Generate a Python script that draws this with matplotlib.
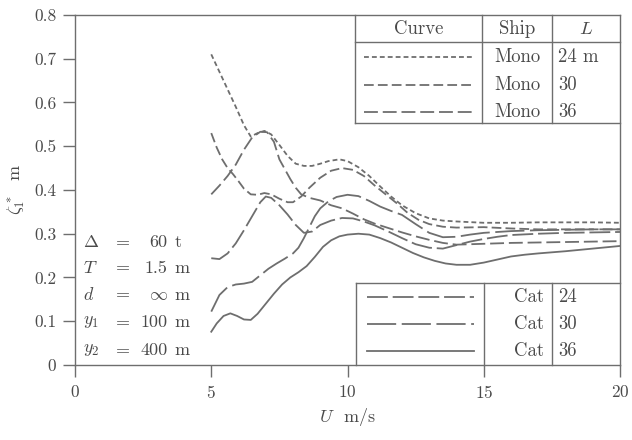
import matplotlib
matplotlib.use("Agg")
import matplotlib.pyplot as plt

plt.rcParams['font.family'] = 'cmr10'
plt.rcParams['mathtext.fontset'] = 'cm'
plt.rcParams['axes.formatter.use_mathtext'] = True
plt.rcParams['lines.scale_dashes'] = False

# ---------------- data ----------------
u_mono24 = [5.0, 5.3, 5.6, 5.9, 6.2, 6.45, 6.7, 6.95, 7.2, 7.5, 7.8, 8.1, 8.4, 8.7, 9.0, 9.3, 9.7,
            10.0, 10.4, 10.8, 11.2, 11.6, 12.0, 12.5, 13.0, 13.5, 14.0, 15.0, 16.0, 17.0, 18.0, 19.0, 20.0]
z_mono24 = [0.710, 0.670, 0.630, 0.590, 0.548, 0.522, 0.530, 0.535, 0.527, 0.503, 0.478, 0.460, 0.455,
            0.455, 0.460, 0.466, 0.470, 0.466, 0.452, 0.432, 0.408, 0.385, 0.365, 0.347, 0.335, 0.330,
            0.328, 0.325, 0.325, 0.326, 0.326, 0.326, 0.325]

u_mono30 = [5.0, 5.2, 5.4, 5.6, 5.8, 6.0, 6.2, 6.45, 6.7, 6.95, 7.2, 7.5, 7.8, 8.0, 8.3, 8.6, 9.0, 9.4,
            9.8, 10.2, 10.6, 11.0, 11.4, 11.8, 12.2, 12.6, 13.0, 13.5, 14.0, 15.0, 16.0, 17.0, 18.0, 19.0, 20.0]
z_mono30 = [0.530, 0.497, 0.470, 0.450, 0.436, 0.420, 0.403, 0.390, 0.389, 0.393, 0.390, 0.380, 0.372,
            0.372, 0.385, 0.405, 0.428, 0.444, 0.450, 0.446, 0.432, 0.410, 0.390, 0.370, 0.348, 0.332,
            0.322, 0.316, 0.314, 0.315, 0.312, 0.310, 0.310, 0.310, 0.310]

u_mono36 = [5.0, 5.3, 5.6, 5.9, 6.2, 6.5, 6.8, 7.05, 7.3, 7.5, 7.9, 8.1, 8.3, 8.6, 9.0, 9.4, 9.8, 10.2,
            10.6, 11.0, 11.5, 12.0, 12.5, 13.0, 13.5, 14.0, 15.0, 16.0, 17.0, 18.0, 19.0, 20.0]
z_mono36 = [0.390, 0.410, 0.432, 0.458, 0.492, 0.520, 0.533, 0.532, 0.510, 0.470, 0.425, 0.405, 0.390,
            0.382, 0.376, 0.365, 0.358, 0.346, 0.333, 0.323, 0.313, 0.303, 0.294, 0.286, 0.279, 0.275,
            0.277, 0.279, 0.280, 0.281, 0.282, 0.283]

u_cat24 = [5.0, 5.3, 5.6, 5.9, 6.2, 6.5, 6.8, 7.0, 7.2, 7.5, 7.8, 8.1, 8.4, 8.7, 9.0, 9.4, 9.8, 10.2,
           10.6, 11.0, 11.5, 12.0, 12.5, 13.0, 13.5, 14.0, 14.5, 15.0, 15.5, 16.0, 17.0, 18.0, 19.0, 20.0]
z_cat24 = [0.244, 0.242, 0.255, 0.278, 0.308, 0.340, 0.372, 0.385, 0.382, 0.365, 0.344, 0.320, 0.302,
           0.305, 0.320, 0.330, 0.336, 0.335, 0.328, 0.319, 0.305, 0.290, 0.276, 0.268, 0.266, 0.274,
           0.282, 0.288, 0.293, 0.297, 0.300, 0.302, 0.303, 0.304]

u_cat30 = [5.0, 5.3, 5.6, 5.9, 6.2, 6.5, 6.8, 7.1, 7.4, 7.7, 8.0, 8.2, 8.4, 8.6, 8.8, 9.0, 9.3, 9.6,
           10.0, 10.4, 10.8, 11.2, 11.6, 12.0, 12.5, 13.0, 13.5, 14.0, 14.5, 15.0, 16.0, 17.0, 18.0, 19.0, 20.0]
z_cat30 = [0.122, 0.160, 0.178, 0.184, 0.186, 0.190, 0.205, 0.220, 0.232, 0.243, 0.255, 0.268, 0.290,
           0.315, 0.340, 0.358, 0.374, 0.384, 0.389, 0.386, 0.375, 0.362, 0.352, 0.343, 0.322, 0.302,
           0.292, 0.293, 0.298, 0.302, 0.306, 0.308, 0.309, 0.310, 0.310]

u_cat36 = [5.0, 5.2, 5.45, 5.7, 5.95, 6.2, 6.45, 6.7, 7.0, 7.3, 7.6, 7.9, 8.2, 8.5, 8.8, 9.1, 9.4, 9.7,
           10.0, 10.4, 10.8, 11.2, 11.6, 12.0, 12.4, 12.8, 13.2, 13.6, 14.0, 14.5, 15.0, 15.5, 16.0,
           16.5, 17.0, 18.0, 19.0, 20.0]
z_cat36 = [0.076, 0.095, 0.112, 0.118, 0.112, 0.104, 0.103, 0.117, 0.140, 0.163, 0.184, 0.200, 0.212,
           0.226, 0.247, 0.270, 0.285, 0.294, 0.298, 0.300, 0.298, 0.290, 0.280, 0.268, 0.256, 0.246,
           0.238, 0.232, 0.229, 0.229, 0.234, 0.241, 0.248, 0.252, 0.255, 0.260, 0.266, 0.272]

ships = ['Mono', 'Mono', 'Mono', 'Cat', 'Cat', 'Cat']
lengths = ['24 m', '30', '36', '24', '30', '36']

params = [(r'$\Delta$', '60', 't'), (r'$T$', '1.5', 'm'), (r'$d$', r'$\infty$', 'm'),
          (r'$y_1$', '100', 'm'), (r'$y_2$', '400', 'm')]

# ---------------- styles ----------------
lc = '#6e6e6e'
tc = '#4a4a4a'
styles = [(0, (3.5, 2.2)), (0, (7, 3)), (0, (10, 3.5)), (0, (15, 3.5)), (0, (21, 4)), '-']
fs_tab = 13.5

fig = plt.figure(figsize=(6.32, 4.4), dpi=100)
ax = fig.add_axes([0.1187, 0.1705, 0.8623, 0.7955])

curves = [(u_mono24, z_mono24), (u_mono30, z_mono30), (u_mono36, z_mono36),
          (u_cat24, z_cat24), (u_cat30, z_cat30), (u_cat36, z_cat36)]
for (u, z), ls in zip(curves, styles):
    ax.plot(u, z, color=lc, lw=1.3, ls=ls)

ax.set_xlim(0, 20)
ax.set_ylim(0, 0.8)
ax.set_xticks([0, 5, 10, 15, 20])
ax.set_yticks([0, 0.1, 0.2, 0.3, 0.4, 0.5, 0.6, 0.7, 0.8])
ax.set_yticklabels(['0', '0.1', '0.2', '0.3', '0.4', '0.5', '0.6', '0.7', '0.8'])
ax.tick_params(direction='out', length=8.5, width=1, color=lc, labelcolor=tc, labelsize=12.5, pad=5)
for s in ax.spines.values():
    s.set_color(lc)
    s.set_linewidth(1)

ax.set_xlabel(r'$U$  m/s', fontsize=13, color=tc, labelpad=4)
ax.set_ylabel(r'$\zeta_1^*$  m', fontsize=13, color=tc, labelpad=5)

# ---------------- top table (monohulls) ----------------
kw = dict(color=lc, lw=1, clip_on=False)
ax.plot([10.26, 20], [0.553, 0.553], **kw)
ax.plot([10.26, 10.26], [0.553, 0.8], **kw)
ax.plot([10.26, 20], [0.738, 0.738], **kw)
ax.plot([14.95, 14.95], [0.553, 0.8], **kw)
ax.plot([17.5, 17.5], [0.553, 0.8], **kw)
ax.text(12.62, 0.768, 'Curve', ha='center', va='center', fontsize=fs_tab, color=tc)
ax.text(16.22, 0.768, 'Ship', ha='center', va='center', fontsize=fs_tab, color=tc)
ax.text(18.75, 0.768, r'$L$', ha='center', va='center', fontsize=fs_tab, color=tc)

rows_top = [0.704, 0.640, 0.578]
for i, y in enumerate(rows_top):
    ax.plot([10.62, 14.65], [y, y], color=lc, lw=1.3, ls=styles[i])
    ax.text(16.22, y, ships[i], ha='center', va='center', fontsize=fs_tab, color=tc)
    ax.text(17.72, y, lengths[i], ha='left', va='center', fontsize=fs_tab, color=tc)

# ---------------- bottom table (catamarans) ----------------
ax.plot([10.33, 20], [0.187, 0.187], **kw)
ax.plot([10.33, 10.33], [0, 0.187], **kw)
ax.plot([15.02, 15.02], [0, 0.187], **kw)
ax.plot([17.5, 17.5], [0, 0.187], **kw)
rows_bot = [0.155, 0.094, 0.032]
for i, y in enumerate(rows_bot):
    ax.plot([10.7, 14.65], [y, y], color=lc, lw=1.3, ls=styles[i + 3])
    ax.text(17.2, y, ships[i + 3], ha='right', va='center', fontsize=fs_tab, color=tc)
    ax.text(17.72, y, lengths[i + 3], ha='left', va='center', fontsize=fs_tab, color=tc)

# ---------------- parameters ----------------
rows_par = [0.281, 0.222, 0.160, 0.098, 0.034]
for (sym, val, unit), y in zip(params, rows_par):
    ax.text(0.3, y, sym, ha='left', va='center', fontsize=13, color=tc)
    ax.text(1.75, y, '=', ha='center', va='center', fontsize=13, color=tc)
    ax.text(3.4, y, val, ha='right', va='center', fontsize=13, color=tc)
    ax.text(3.65, y, unit, ha='left', va='center', fontsize=13, color=tc)

fig.savefig('out.png', dpi=100)
